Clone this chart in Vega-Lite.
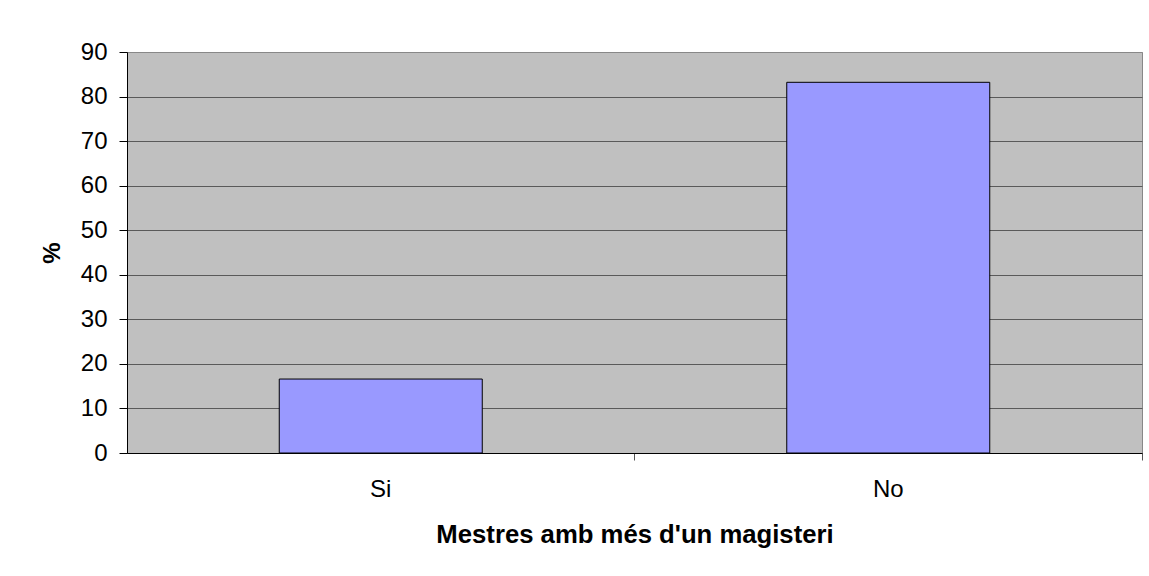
{
  "$schema": "https://vega.github.io/schema/vega-lite/v6.json",
  "autosize": "none",
  "padding": {"left": 127, "top": 52, "right": 7, "bottom": 123},
  "width": 1015,
  "height": 401,
  "background": "white",
  "data": {"values": [
    {"categoria": "Si", "pct": 16.6},
    {"categoria": "No", "pct": 83.2}
  ]},
  "mark": {"type": "bar", "fill": "#9999FF", "stroke": "#000000", "strokeWidth": 1},
  "encoding": {
    "x": {
      "field": "categoria", "type": "nominal", "sort": ["Si", "No"],
      "scale": {"paddingInner": 0.6, "paddingOuter": 0.3},
      "axis": {
        "title": "Mestres amb més d'un magisteri",
        "labelAngle": 0,
        "bandPosition": 1.75,
        "tickSize": 7,
        "tickColor": "#555555",
        "domainColor": "#000000",
        "labelPadding": 17,
        "labelFont": "Liberation Sans",
        "labelFontSize": 24,
        "labelColor": "#000000",
        "titleFont": "Liberation Sans",
        "titleFontSize": 25.7,
        "titleFontWeight": "bold",
        "titleColor": "#000000",
        "titlePadding": 21,
        "grid": false
      }
    },
    "y": {
      "field": "pct", "type": "quantitative",
      "scale": {"domain": [0, 90], "nice": false},
      "axis": {
        "title": "%",
        "values": [0, 10, 20, 30, 40, 50, 60, 70, 80, 90],
        "tickSize": 8,
        "tickColor": "#000000",
        "domainColor": "#000000",
        "labelPadding": 12,
        "labelFont": "Liberation Sans",
        "labelFontSize": 24,
        "labelColor": "#000000",
        "titleFont": "Liberation Sans",
        "titleFontSize": 24,
        "titleFontWeight": "bold",
        "titleColor": "#000000",
        "titlePadding": 16,
        "grid": true,
        "gridColor": {"condition": {"test": "datum.value == 90", "value": "#888888"}, "value": "#5a5a5a"},
        "gridWidth": 1
      }
    }
  },
  "config": {
    "view": {"fill": "#C0C0C0", "stroke": "#888888", "strokeWidth": 1}
  }
}
